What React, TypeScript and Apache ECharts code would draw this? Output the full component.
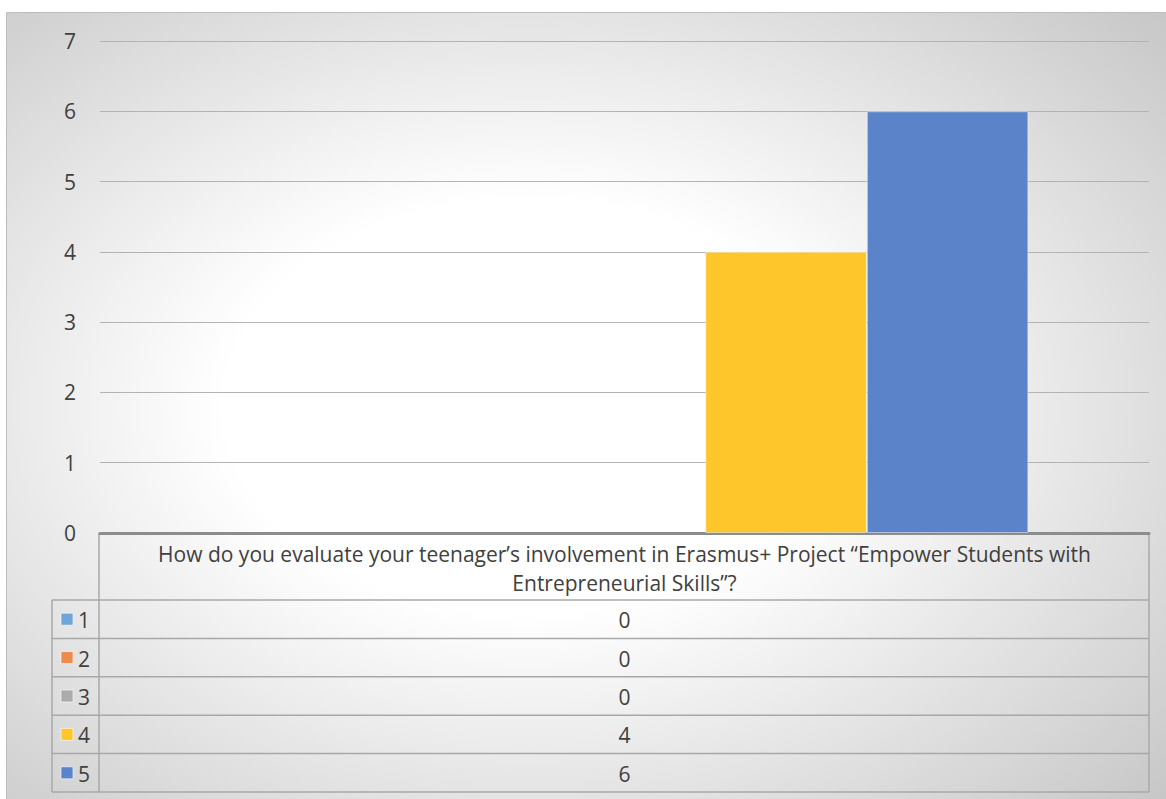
import React, { useEffect, useRef } from "react";
import * as echarts from "echarts";

const categories = [
  "How do you evaluate your teenager’s involvement in Erasmus+ Project “Empower Students with Entrepreneurial Skills”?",
];
const seriesNames = ["1", "2", "3", "4", "5"];
const seriesValues = [[0], [0], [0], [4], [6]];
const seriesColors = ["#6FA6DA", "#EE8B4C", "#ABABAB", "#FEC62B", "#5B83C9"];
const yTicks = [0, 1, 2, 3, 4, 5, 6, 7];

const W = 1166;
const H = 799;
const FONT = "'Open Sans', 'Noto Sans', sans-serif";
const TXT = "#404040";
const FS = 21;

// layout
const GL = 100;
const GR = 1149;
const GT = 41;
const GB = 533;
const HEADER_BOTTOM = 600;
const ROW_H = 38.4;
const LEG_L = 52;

export default function App() {
  const ref = useRef<HTMLDivElement>(null);
  useEffect(() => {
    if (!ref.current) return;
    const chart = echarts.init(ref.current, null, { renderer: "svg" });
    const gridLine = "#b3b3b3";
    const tableLine = "#a8a8a8";
    const graphics: any[] = [];
    graphics.push({
      type: "rect",
      z: -10,
      silent: true,
      shape: { x: 6.5, y: 12.5, width: W - 6, height: H - 12 },
      style: {
        fill: new echarts.graphic.RadialGradient(0.45, 0.5, 0.75, [
          { offset: 0, color: "#ffffff" },
          { offset: 0.35, color: "#ffffff" },
          { offset: 1, color: "#c6c6c6" },
        ]),
        stroke: "#bdbdbd",
        lineWidth: 1,
      },
    });
    const tableBottom = HEADER_BOTTOM + ROW_H * seriesNames.length;
    graphics.push({
      type: "line",
      shape: { x1: GL - 1, y1: GB, x2: GL - 1, y2: tableBottom },
      style: { stroke: tableLine, lineWidth: 1.5 },
    });
    graphics.push({
      type: "line",
      shape: { x1: GR, y1: GB, x2: GR, y2: tableBottom },
      style: { stroke: tableLine, lineWidth: 1.5 },
    });
    graphics.push({
      type: "line",
      shape: { x1: LEG_L, y1: HEADER_BOTTOM, x2: LEG_L, y2: tableBottom },
      style: { stroke: tableLine, lineWidth: 1.5 },
    });
    for (let i = 0; i <= seriesNames.length; i++) {
      const y = HEADER_BOTTOM + ROW_H * i;
      graphics.push({
        type: "line",
        shape: { x1: LEG_L, y1: y, x2: GR, y2: y },
        style: { stroke: tableLine, lineWidth: 1.5 },
      });
    }
    seriesNames.forEach((name, i) => {
      const cy = HEADER_BOTTOM + ROW_H * i + ROW_H / 2;
      graphics.push({
        type: "rect",
        shape: { x: 61, y: cy - 6, width: 12, height: 12 },
        style: { fill: seriesColors[i], stroke: "rgba(255,255,255,0.6)", lineWidth: 1 },
      });
      graphics.push({
        type: "text",
        x: 78,
        y: cy + 1,
        style: { text: name, fill: TXT, font: `${FS}px ${FONT}`, verticalAlign: "middle", align: "left" },
      });
      graphics.push({
        type: "text",
        x: (GL + GR) / 2,
        y: cy + 1,
        style: {
          text: String(seriesValues[i][0]),
          fill: TXT,
          font: `${FS}px ${FONT}`,
          verticalAlign: "middle",
          align: "center",
        },
      });
    });

    chart.setOption({
      animation: false,
      textStyle: { fontFamily: FONT },
      grid: { left: GL, right: W - GR, top: GT, bottom: H - GB, containLabel: false },
      xAxis: {
        type: "category",
        data: categories,
        axisTick: { show: false },
        axisLine: { show: true, lineStyle: { color: "#8c8c8c", width: 3 } },
        axisLabel: {
          interval: 0,
          color: TXT,
          fontSize: FS,
          lineHeight: 29,
          margin: 6,
          formatter: (v: string) => {
            const idx = v.indexOf(" Entrepreneurial");
            return idx > 0 ? v.slice(0, idx) + "\n" + v.slice(idx + 1) : v;
          },
        },
      },
      yAxis: {
        type: "value",
        min: yTicks[0],
        max: yTicks[yTicks.length - 1],
        interval: 1,
        axisLine: { show: false },
        axisTick: { show: false },
        axisLabel: { color: TXT, fontSize: FS, margin: 24 },
        splitLine: { lineStyle: { color: gridLine, width: 1.2 } },
      },
      series: seriesNames.map((name, i) => ({
        type: "bar",
        name,
        data: seriesValues[i],
        barGap: "0%",
        barCategoryGap: "23%",
        itemStyle: {
          color: seriesColors[i],
          borderColor: "rgba(255,255,255,0.45)",
          borderWidth: seriesValues[i].some((v) => v > 0) ? 1 : 0,
        },
      })),
      graphic: graphics,
    });
    return () => chart.dispose();
  }, []);
  return (
    <div
      ref={ref}
      style={{ position: "absolute", left: 0, top: 0, width: W, height: H, background: "#fff" }}
    />
  );
}
